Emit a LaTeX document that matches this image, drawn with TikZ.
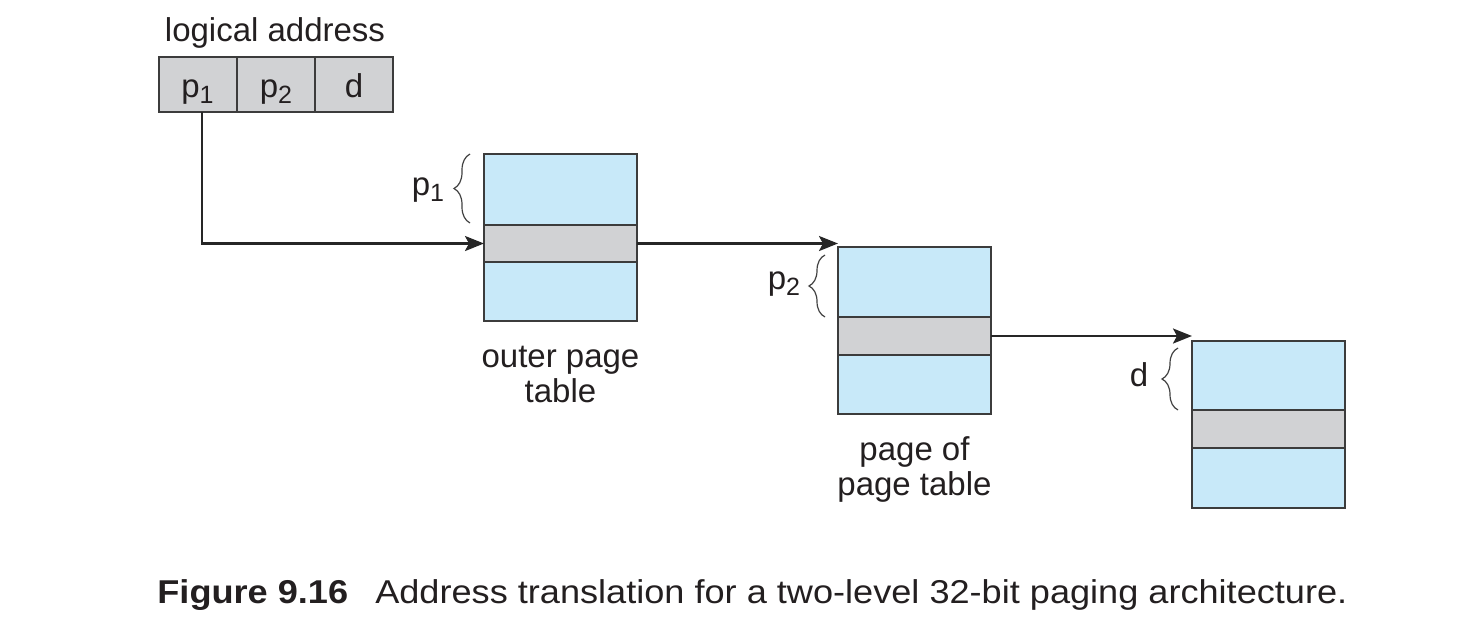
\documentclass[tikz,border=0pt]{standalone}
\usepackage{fontspec}
\setmainfont{Liberation Sans}
\usetikzlibrary{arrows.meta,decorations.pathreplacing}
\definecolor{tblue}{HTML}{C8E9F9}
\definecolor{tgray}{HTML}{D1D2D4}
\definecolor{tline}{HTML}{3C3C3C}
\definecolor{ttext}{HTML}{231F20}
\newcommand{\sub}[1]{\raisebox{-0.35ex}{\fontsize{12.5}{14}\selectfont #1}}
\tikzset{
  lbl/.style={font=\fontsize{16.5}{17.5}\selectfont, text=ttext, inner sep=0pt, align=center},
  cell/.style={draw=tline, line width=1pt, fill=tgray, minimum width=39pt, minimum height=27.5pt, inner sep=0pt, outer sep=0pt, font=\fontsize{16.5}{17.5}\selectfont, text=ttext, text height=16.5pt, text depth=4pt},
  tbl/.style={draw=tline, line width=1pt, fill=tblue, minimum width=76.5pt, minimum height=83.5pt, inner sep=0pt, outer sep=0pt},
  band/.style={draw=tline, line width=1pt, fill=tgray, minimum width=76.5pt, minimum height=18.75pt, inner sep=0pt, outer sep=0pt},
  arr/.style={draw=black!85, line width=1.25pt, -{Stealth[length=9.5pt,width=7.5pt,inset=2pt]}},
  brc/.style={draw=black!75, line width=0.6pt, decorate, decoration={brace, amplitude=8pt}}
}
\begin{document}
\begin{tikzpicture}[x=0.5pt, y=-0.5pt]
\useasboundingbox (0,0) rectangle (1462,632);
% logical address
\node[lbl] (la) at (275,33) {logical address};
\node[cell] (c1) at (197.5,84.5) {p\sub{1}};
\node[cell] (c2) at (276,84.5) {p\sub{2}};
\node[cell] (c3) at (354,84.5) {d};
% tables
\node[tbl] (t1) at (560.5,237) {};
\node[band] (b1) at (560.5,243.5) {};
\node[tbl] (t2) at (914.5,330.5) {};
\node[band] (b2) at (914.5,336) {};
\node[tbl] (t3) at (1268.5,424) {};
\node[band] (b3) at (1268.5,429) {};
% labels
\node[lbl] (n1) at (560.5,374) {outer page\\table};
\node[lbl] (n2) at (914.5,469) {page of\\page table};
% braces
\coordinate (r1a) at (470,223); \coordinate (r1b) at (470,154);
\coordinate (r2a) at (825,317); \coordinate (r2b) at (825,255);
\coordinate (r3a) at (1178,410); \coordinate (r3b) at (1178,348);
\draw[brc] (r1a) -- (r1b);
\draw[brc] (r2a) -- (r2b);
\draw[brc] (r3a) -- (r3b);
\node[lbl] (k1) at (428,190) {p\sub{1}};
\node[lbl] (k2) at (784,284) {p\sub{2}};
\node[lbl] (k3) at (1139,375) {d};
% arrows
\coordinate (s1) at ([xshift=2.25pt]c1.south);
\draw[arr] (s1) |- (b1.west);
\draw[arr] (b1.east) -- (b1.east -| t2.west);
\draw[arr] (b2.east) -- (b2.east -| t3.west);
% caption
\node[lbl, anchor=west] (cap) at (157,595) {\resizebox{595pt}{\height}{\textbf{Figure 9.16}\hspace{0.75em}Address translation for a two-level 32-bit paging architecture.}};
\end{tikzpicture}
\end{document}
